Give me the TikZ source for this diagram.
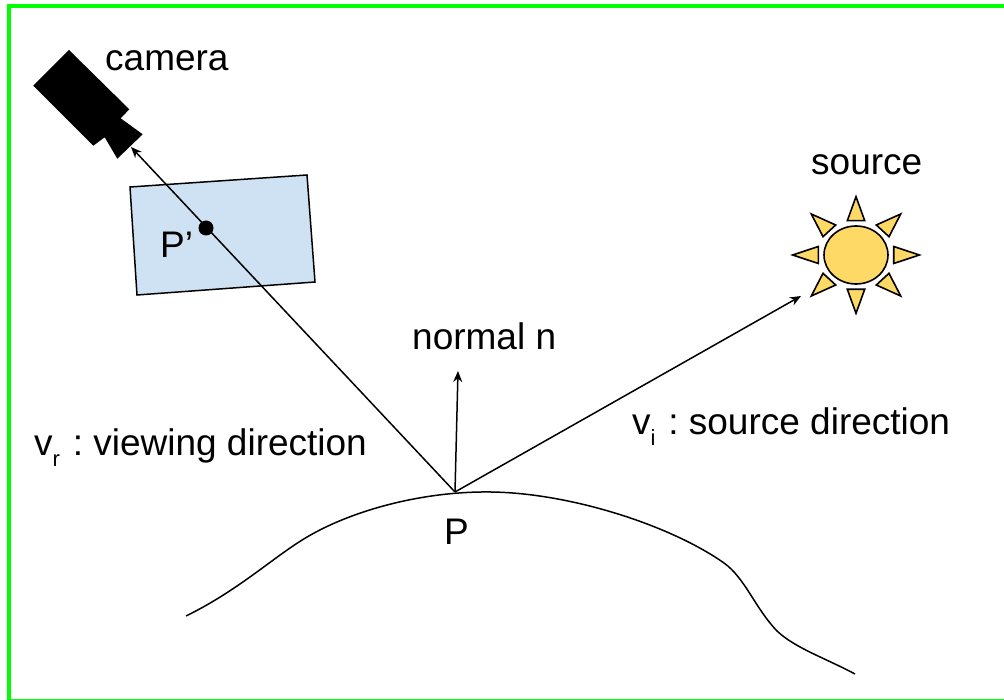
\documentclass[tikz,border=0pt]{standalone}
\usepackage{fontspec}
\setmainfont{Liberation Sans}
\usepackage{xcolor}
\usetikzlibrary{arrows.meta,positioning,shapes.geometric}
\definecolor{frameline}{HTML}{00FF00}
\definecolor{planeblue}{HTML}{CFE2F3}
\definecolor{sunyellow}{HTML}{FFD966}
\newcommand{\lowidx}[1]{\raisebox{-0.3em}{\fontsize{22}{24}\selectfont #1}\kern2.5pt\relax}
\frenchspacing
\tikzset{
  lbl/.style={inner sep=0pt,anchor=base west,font=\fontsize{37}{40}\selectfont},
  arr/.style={-{Stealth[length=11pt,width=9pt]},line width=1.5pt},
  sunpart/.style={draw=black,fill=sunyellow,line width=1.6pt,line join=miter},
}

\begin{document}
\begin{tikzpicture}[x=1pt,y=-1pt]
\useasboundingbox (0,0) rectangle (1004,700);
\draw[frameline,line width=4pt] (9,6.5) rectangle (1010,701);
% image plane and camera
\draw[fill=planeblue,line width=1.5pt] (130,187) -- (307,175) -- (315,282) -- (137,295) -- cycle;
\fill (69,50) -- (129.3,109.3) -- (120.7,118.3) -- (142.7,134.3) -- (117.3,158.7) -- (104.7,137.3) -- (93.3,145.7) -- (33.3,85.7) -- cycle;
% sun
\node[sunpart,ellipse,minimum width=64pt,minimum height=58pt,inner sep=0pt] (sun) at (856,255) {};
\begin{scope}[shift={(856,255)}]
\foreach \ax/\ay/\bx/\by/\cx/\cy in {0/-58.3/-8.7/-34.3/8.7/-34.3, 0/58.3/-8.7/34.3/8.7/34.3,
    63.3/0/37.7/-8.5/37.7/8.5, -63.3/0/-37.7/-8.5/-37.7/8.5,
    44.7/-41/20.3/-30/33/-18.3, -44.7/-41/-20.3/-30/-33/-18.3,
    44.7/41/20.3/30/33/18.3, -44.7/41/-20.3/30/-33/18.3}
  \draw[sunpart] (\ax,\ay) -- (\bx,\by) -- (\cx,\cy) -- cycle;
\end{scope}
% surface
\draw[line width=1.5pt] (186,616) .. controls (235,592) and (268,562) .. (299,542)
  .. controls (345,512) and (420,491) .. (491,492)
  .. controls (570,493) and (670,525) .. (724,563)
  .. controls (745,578) and (755,608) .. (777,631)
  .. controls (795,648) and (825,658) .. (855,674);
% rays
\coordinate (P) at (455,492);
\coordinate (lens) at (131,147);
\coordinate (ntip) at (458,371);
\coordinate (stip) at (801,296);
\node[circle,fill=black,minimum size=15pt,inner sep=0pt] (pdot) at (206,228) {};
\draw[arr] (P) -- (lens);
\draw[arr] (P) -- (ntip);
\draw[arr] (P) -- (stip);
% labels
\node[lbl] (camlbl) at (105,71) {camera};
\node[lbl] (srclbl) at (811,175) {source};
\node[lbl] (pplbl) at (160,258) {P’};
\node[lbl] (nlbl) at (412,350) {normal n};
\node[lbl] (vilbl) at (632,434) {v\lowidx{i} : source direction};
\node[lbl] (vrlbl) at (34,455) {v\lowidx{r} : viewing direction};
\node[lbl] (plbl) at (444,544) {P};
\end{tikzpicture}
\end{document}
